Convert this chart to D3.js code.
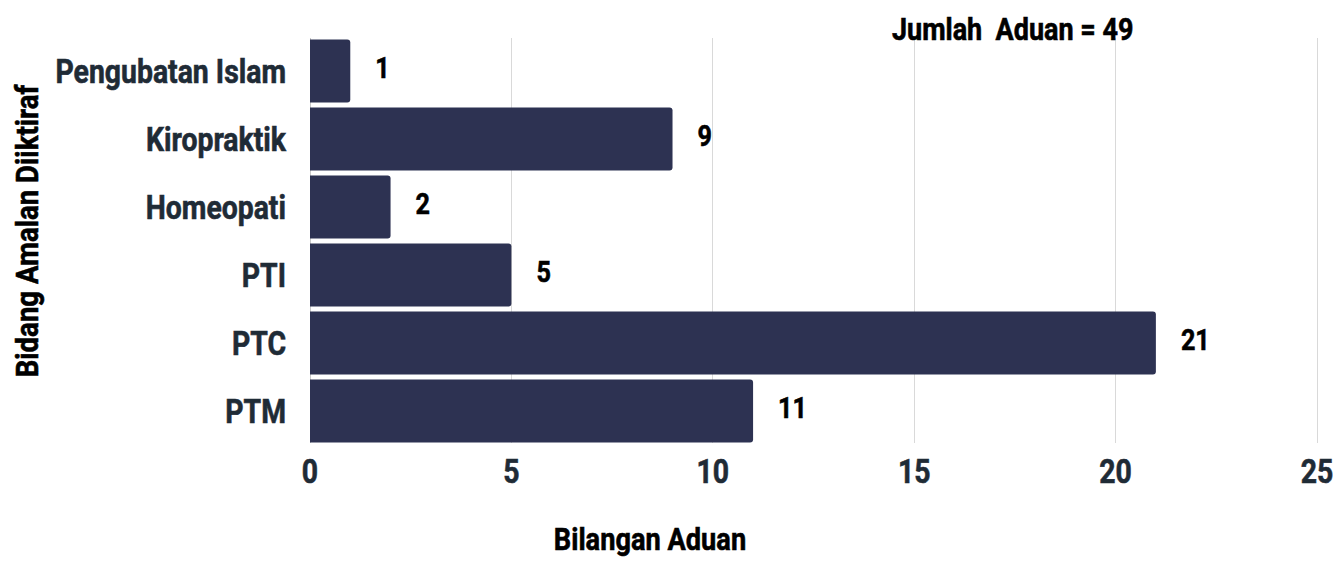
<!DOCTYPE html>
<meta charset="utf-8">
<style>
body { margin: 0; background: #fff; }
text { font-family: Roboto, sans-serif; font-weight: bold; stroke-width: 0.6; }
.grid line { stroke: #d9d9d9; stroke-width: 1; shape-rendering: crispEdges; }
</style>
<body>
<script src="https://d3js.org/d3.v7.min.js"></script>
<script>
var categories = ["Pengubatan Islam", "Kiropraktik", "Homeopati", "PTI", "PTC", "PTM"];
var values = [1, 9, 2, 5, 21, 11];
var xTicks = [0, 5, 10, 15, 20, 25];
var total = 49;

var W = 1342, H = 562;
var plotLeft = 310, plotRight = 1317, plotTop = 37, plotBottom = 445;

var svg = d3.select("body").append("svg")
    .attr("width", W).attr("height", H);

var x = d3.scaleLinear().domain([0, 25]).range([plotLeft, plotRight]);
var y = d3.scaleBand().domain(categories).range([plotTop, plotBottom])
    .paddingInner(0.074).paddingOuter(0.037);

// squeeze bold Roboto so it reads like the condensed face of the original
function condense(sel, k) {
  sel.each(function() {
    var len = this.getComputedTextLength();
    d3.select(this).attr("textLength", len * k).attr("lengthAdjust", "spacingAndGlyphs");
  });
}

// gridlines
svg.append("g")
    .attr("class", "grid")
    .selectAll("line")
    .data(xTicks.slice(1))
  .enter().append("line")
    .attr("x1", function(d) { return x(d); })
    .attr("x2", function(d) { return x(d); })
    .attr("y1", 38).attr("y2", 443);

svg.append("line")
    .attr("x1", x(0)).attr("x2", x(0))
    .attr("y1", 38).attr("y2", 443)
    .attr("stroke", "#c8c8c8")
    .attr("shape-rendering", "crispEdges");

// bars: square on the left, rounded on the right
var r = 3;
svg.selectAll(".bar")
    .data(values)
  .enter().append("path")
    .attr("class", "bar")
    .attr("fill", "#2d3252")
    .attr("d", function(d, i) {
      var xa = x(0), xb = x(d), ya = y(categories[i]), yb = ya + y.bandwidth();
      return "M" + xa + "," + ya + "H" + (xb - r) + "Q" + xb + "," + ya + " " + xb + "," + (ya + r) +
             "V" + (yb - r) + "Q" + xb + "," + yb + " " + (xb - r) + "," + yb + "H" + xa + "Z";
    });

// value labels
svg.selectAll(".val")
    .data(values)
  .enter().append("text")
    .attr("class", "val")
    .attr("x", function(d) { return x(d) + 25; })
    .attr("y", function(d, i) { return y(categories[i]) + y.bandwidth() / 2 - 4; })
    .attr("dy", "0.35em")
    .attr("font-size", 30)
    .attr("fill", "#000").attr("stroke", "#000")
    .text(function(d) { return d; })
    .call(condense, 0.84);

// category labels
svg.selectAll(".cat")
    .data(categories)
  .enter().append("text")
    .attr("class", "cat")
    .attr("x", plotLeft - 24)
    .attr("y", function(d) { return y(d) + y.bandwidth() / 2; })
    .attr("dy", "0.35em")
    .attr("text-anchor", "end")
    .attr("font-size", 33)
    .attr("fill", "#1f2b36").attr("stroke", "#1f2b36")
    .text(function(d) { return d; })
    .call(condense, 0.86);

// x tick labels
svg.selectAll(".tick-label")
    .data(xTicks)
  .enter().append("text")
    .attr("class", "tick-label")
    .attr("x", function(d) { return x(d); })
    .attr("y", 483)
    .attr("text-anchor", "middle")
    .attr("font-size", 33)
    .attr("fill", "#1f2b36").attr("stroke", "#1f2b36")
    .text(function(d) { return d; })
    .call(condense, 0.86);

// axis titles
svg.append("text")
    .attr("x", 650).attr("y", 550)
    .attr("text-anchor", "middle")
    .attr("font-size", 32)
    .attr("fill", "#000").attr("stroke", "#000")
    .text("Bilangan Aduan")
    .call(condense, 0.85);

svg.append("text")
    .attr("transform", "translate(38,231) rotate(-90)")
    .attr("text-anchor", "middle")
    .attr("font-size", 31)
    .attr("fill", "#000").attr("stroke", "#000")
    .text("Bidang Amalan Diiktiraf")
    .call(condense, 0.89);

svg.append("text")
    .attr("x", 892).attr("y", 40)
    .attr("font-size", 31)
    .attr("fill", "#000").attr("stroke", "#000")
    .attr("xml:space", "preserve")
    .text("Jumlah  Aduan = " + total)
    .call(condense, 0.87);
</script>
</body>
